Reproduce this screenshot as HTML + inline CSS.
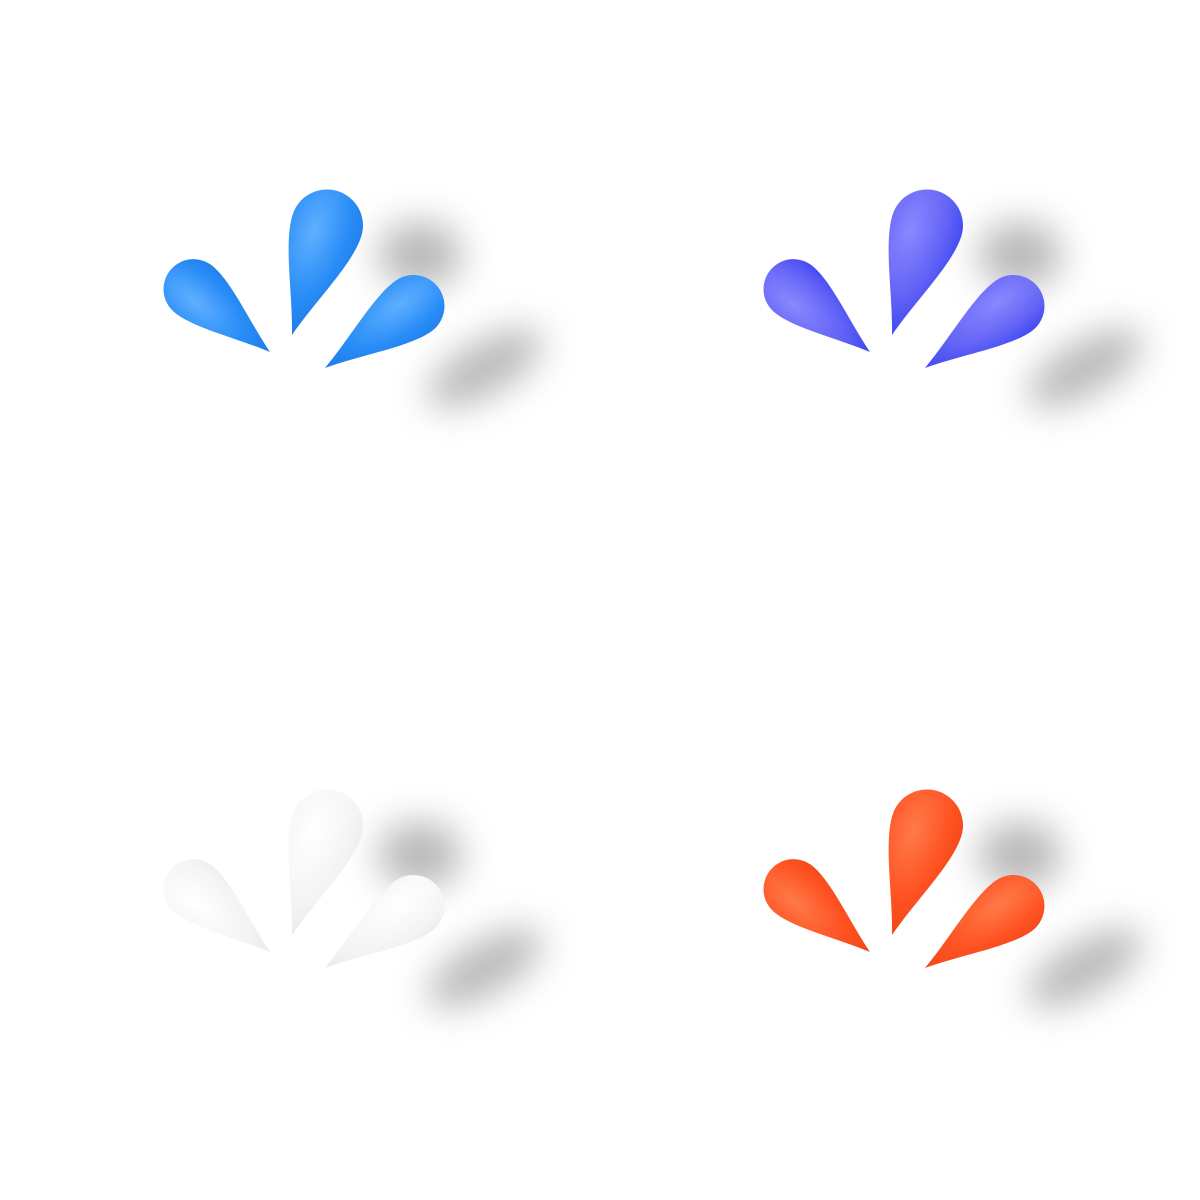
<!DOCTYPE html>
<html><head><meta charset="utf-8"><style>
html,body{margin:0;padding:0;background:#fff;width:1200px;height:1200px;overflow:hidden}
</style></head><body>
<svg width="1200" height="1200" viewBox="0 0 1200 1200">
<defs>
  <filter id="blur" x="-60%" y="-60%" width="220%" height="220%"><feGaussianBlur stdDeviation="18"/></filter>
  <radialGradient id="gBlue" cx="0.35" cy="0.3" r="0.9"><stop offset="0" stop-color="#5fb0ff"/><stop offset="0.5" stop-color="#2a8df7"/><stop offset="1" stop-color="#1572e0"/></radialGradient>
  <radialGradient id="gPurple" cx="0.3" cy="0.3" r="0.9"><stop offset="0" stop-color="#8a88ff"/><stop offset="0.5" stop-color="#6464f6"/><stop offset="1" stop-color="#2a3af2"/></radialGradient>
  <radialGradient id="gWhite" cx="0.35" cy="0.3" r="0.9"><stop offset="0" stop-color="#ffffff"/><stop offset="0.6" stop-color="#f3f3f3"/><stop offset="1" stop-color="#e2e2e2"/></radialGradient>
  <radialGradient id="gOrange" cx="0.35" cy="0.3" r="0.9"><stop offset="0" stop-color="#ff7a4a"/><stop offset="0.5" stop-color="#ff5322"/><stop offset="1" stop-color="#e8400f"/></radialGradient>
  <path id="dropM" d="M0 0 C -12 -40 -36 -85 -36 -115 A 36 36 0 1 1 36 -115 C 36 -85 12 -40 0 0 Z"/>
  <path id="dropL" d="M0 0 C -10 -34 -30 -74 -30 -99 A 30 30 0 1 1 30 -99 C 30 -74 10 -34 0 0 Z"/>
  <path id="dropR" d="M0 0 C -10 -37 -31 -81 -31 -108 A 31 31 0 1 1 31 -108 C 31 -81 10 -37 0 0 Z"/>
  <g id="shad" fill="#8a8a8a" opacity="0.6" filter="url(#blur)">
    <ellipse cx="420" cy="255" rx="42" ry="34"/>
    <ellipse cx="485" cy="368" rx="65" ry="26" transform="rotate(-30 485 368)"/>
  </g>
</defs>

<g>
  <use href="#shad"/>
  <use href="#dropL" transform="translate(270 352) rotate(-50.6)" fill="url(#gBlue)"/>
  <use href="#dropM" transform="translate(292 335) rotate(17.7)" fill="url(#gBlue)"/>
  <use href="#dropR" transform="translate(325 368) rotate(55)" fill="url(#gBlue)"/>
</g>

<g transform="translate(600 0)">
  <use href="#shad"/>
  <use href="#dropL" transform="translate(270 352) rotate(-50.6)" fill="url(#gPurple)"/>
  <use href="#dropM" transform="translate(292 335) rotate(17.7)" fill="url(#gPurple)"/>
  <use href="#dropR" transform="translate(325 368) rotate(55)" fill="url(#gPurple)"/>
</g>

<g transform="translate(0 600)">
  <use href="#shad"/>
  <use href="#dropL" transform="translate(270 352) rotate(-50.6)" fill="url(#gWhite)"/>
  <use href="#dropM" transform="translate(292 335) rotate(17.7)" fill="url(#gWhite)"/>
  <use href="#dropR" transform="translate(325 368) rotate(55)" fill="url(#gWhite)"/>
</g>

<g transform="translate(600 600)">
  <use href="#shad"/>
  <use href="#dropL" transform="translate(270 352) rotate(-50.6)" fill="url(#gOrange)"/>
  <use href="#dropM" transform="translate(292 335) rotate(17.7)" fill="url(#gOrange)"/>
  <use href="#dropR" transform="translate(325 368) rotate(55)" fill="url(#gOrange)"/>
</g>
</svg>
</body></html>
